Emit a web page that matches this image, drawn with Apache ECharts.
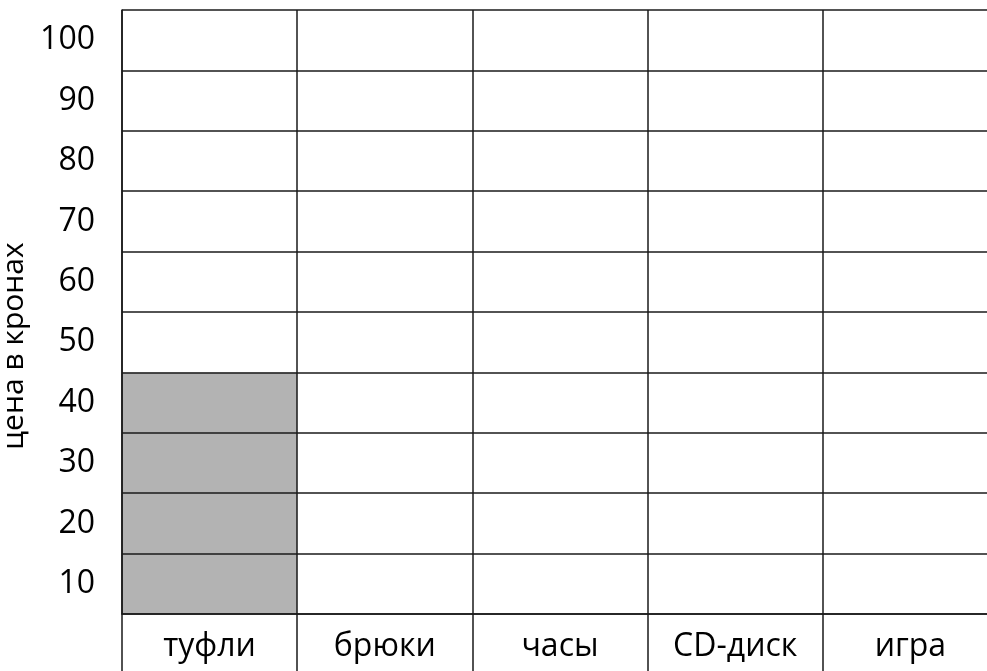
<!DOCTYPE html>
<html>
<head>
<meta charset="utf-8">
<title>цена в кронах</title>
<script src="https://cdn.jsdelivr.net/npm/echarts@6/dist/echarts.min.js"></script>
<style>
    html, body { margin: 0; padding: 0; background: #ffffff; }
    #myChart { width: 987px; height: 671px; }
</style>
</head>
<body>
<div id="myChart"></div>
<script>
    // товары и цены
    var categories = ['туфли', 'брюки', 'часы', 'CD-диск', 'игра'];
    var prices = [40, null, null, null, null];
    // подписи строк (по центру каждой полосы)
    var rowLabels = ['10', '20', '30', '40', '50', '60', '70', '80', '90', '100'];

    var font = '"Open Sans", "Noto Sans", sans-serif';
    var lineColor = '#1a1a1a';

    var myChart = echarts.init(document.getElementById('myChart'));
    myChart.setOption({
        animation: false,
        textStyle: { fontFamily: font, color: '#000' },
        grid: { left: 122, right: -11, top: 10, bottom: 57, outerBoundsMode: 'none', containLabel: false },
        xAxis: {
            type: 'category',
            data: categories,
            boundaryGap: true,
            axisLine: { show: true, lineStyle: { color: lineColor, width: 1.5 } },
            axisTick: { show: true, interval: 0, length: 60, lineStyle: { color: lineColor, width: 1.5 } },
            splitLine: { show: true, interval: 0, lineStyle: { color: lineColor, width: 1.5 } },
            axisLabel: { interval: 0, margin: 17, fontSize: 32, fontFamily: font, color: '#000' }
        },
        yAxis: [
            {
                type: 'value',
                min: 0,
                max: 100,
                interval: 10,
                axisLine: { show: true, lineStyle: { color: lineColor, width: 1.5 } },
                axisTick: { show: false },
                axisLabel: { show: false },
                splitLine: { show: true, lineStyle: { color: lineColor, width: 1.5 } }
            },
            {
                type: 'category',
                position: 'left',
                data: rowLabels,
                boundaryGap: true,
                axisLine: { show: false },
                axisTick: { show: false },
                splitLine: { show: false },
                axisLabel: { interval: 0, margin: 27, fontSize: 32, fontFamily: font, color: '#000', padding: [5, 0, 0, 0] },
                name: 'цена в кронах',
                nameLocation: 'middle',
                nameRotate: 90,
                nameGap: 80,
                nameTextStyle: { fontSize: 30, fontFamily: font, color: '#000', padding: [0, 68, 0, 0] }
            }
        ],
        series: [
            {
                type: 'bar',
                data: prices,
                yAxisIndex: 0,
                barWidth: '100%',
                z: -1,
                itemStyle: { color: '#b3b3b3' }
            }
        ]
    });
</script>
</body>
</html>
